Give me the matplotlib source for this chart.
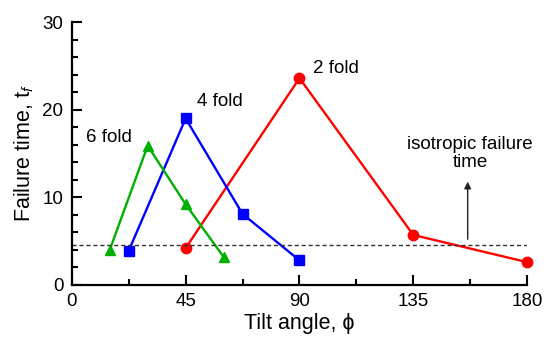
import matplotlib
matplotlib.use("Agg")
import matplotlib.pyplot as plt
from matplotlib.ticker import MultipleLocator

plt.rcParams["font.family"] = ["Liberation Sans", "DejaVu Sans"]
plt.rcParams["mathtext.fontset"] = "custom"
plt.rcParams["mathtext.rm"] = "Liberation Sans"
plt.rcParams["mathtext.it"] = "Liberation Sans:italic"

# failure time vs tilt angle for each fold symmetry
angle_2fold = [45, 90, 135, 180]
time_2fold = [4.2, 23.6, 5.7, 2.6]

angle_4fold = [22.5, 45, 67.5, 90]
time_4fold = [3.9, 19.0, 8.1, 2.8]

angle_6fold = [15, 30, 45, 60]
time_6fold = [4.0, 15.9, 9.2, 3.2]

isotropic_time = 4.6

fig = plt.figure(figsize=(5.44, 3.4), dpi=100)
ax = fig.add_axes([0.132, 0.162, 0.837, 0.773])

ax.plot(angle_2fold, time_2fold, color="#ff0000", lw=1.7, marker="o", ms=7.5, clip_on=False)
ax.plot(angle_4fold, time_4fold, color="#0000ff", lw=1.7, marker="s", ms=7, clip_on=False)
ax.plot(angle_6fold, time_6fold, color="#00b000", lw=1.7, marker="^", ms=7.5, clip_on=False)

ax.axhline(isotropic_time, color="#333333", lw=1.0, ls=(0, (3, 2)))
ax.annotate("", xy=(156.5, 12.1), xytext=(156.5, 4.9),
            arrowprops=dict(arrowstyle="-|>", color="#222222", lw=1.0, mutation_scale=10))

ax.text(95.5, 24.2, "2 fold", fontsize=13.5)
ax.text(49.5, 20.4, "4 fold", fontsize=13.5)
ax.text(5.5, 16.3, "6 fold", fontsize=13.5)
ax.text(157.5, 15.0, "isotropic failure\ntime", fontsize=13.5, ha="center", va="center",
        linespacing=1.15)

ax.set_xlim(0, 180)
ax.set_ylim(0, 30)
ax.xaxis.set_major_locator(MultipleLocator(45))
ax.xaxis.set_minor_locator(MultipleLocator(22.5))
ax.yaxis.set_major_locator(MultipleLocator(10))
ax.yaxis.set_minor_locator(MultipleLocator(2))
ax.tick_params(which="both", direction="in", width=1.5, labelsize=13.5, pad=6)
ax.tick_params(which="major", length=7)
ax.tick_params(which="minor", length=4)

for side in ("top", "right"):
    ax.spines[side].set_visible(False)
for side in ("left", "bottom"):
    ax.spines[side].set_linewidth(1.6)

ax.set_xlabel("Tilt angle, \u03d5", fontsize=15.5, labelpad=2)
ax.set_ylabel("Failure time, t$_f$", fontsize=15.5, labelpad=5)

fig.savefig("out.png", dpi=100)
